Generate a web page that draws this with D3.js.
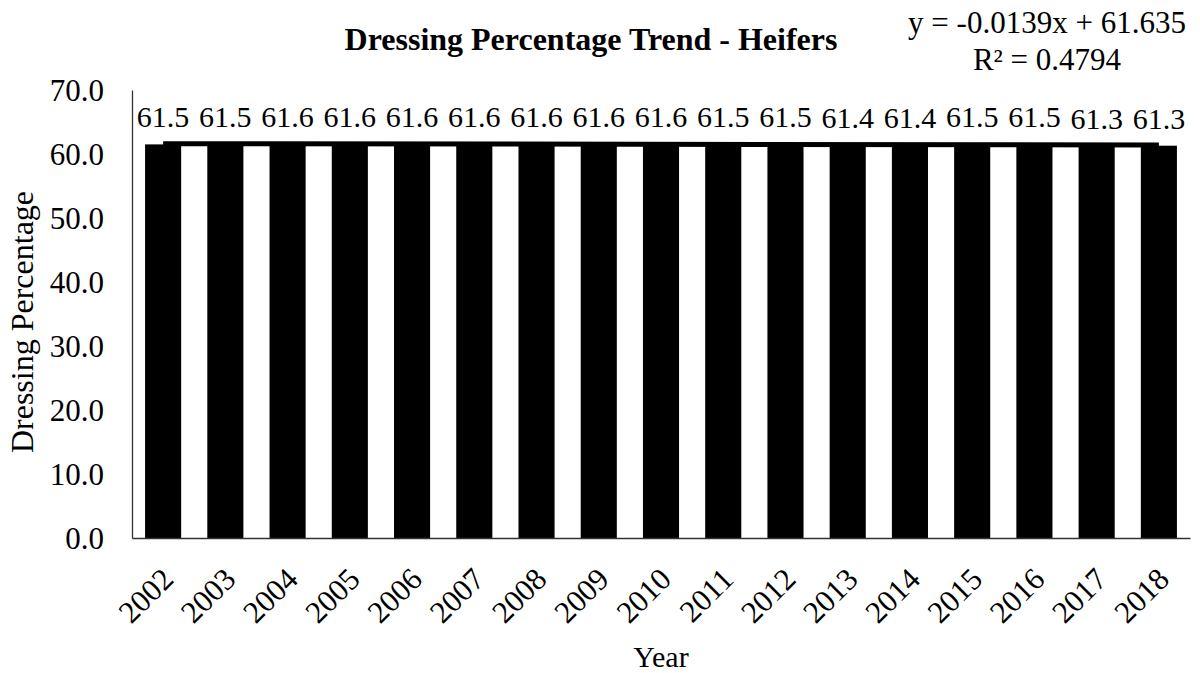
<!DOCTYPE html>
<html>
<head>
<meta charset="utf-8">
<script src="https://cdn.jsdelivr.net/npm/d3@7"></script>
<style>
  body { margin: 0; background: #fff; }
  svg text { font-family: "Liberation Serif", "Times New Roman", serif; fill: #000; }
</style>
</head>
<body>
<div id="chart"></div>
<script>
// data
var years = ['2002', '2003', '2004', '2005', '2006', '2007', '2008', '2009', '2010',
  '2011', '2012', '2013', '2014', '2015', '2016', '2017', '2018'];
var dressing = [61.5, 61.5, 61.6, 61.6, 61.6, 61.6, 61.6, 61.6, 61.6,
  61.5, 61.5, 61.4, 61.4, 61.5, 61.5, 61.3, 61.3];
var yTicks = [0, 10, 20, 30, 40, 50, 60, 70];
// linear trendline as printed on the chart
var trendSlope = -0.0139;
var trendIntercept = 61.635;
var trendR2 = 0.4794;

var width = 1200, height = 673;
var margin = { top: 90, right: 10, bottom: 135, left: 132 };
var plotW = width - margin.left - margin.right,
  plotH = height - margin.top - margin.bottom;

var svg = d3.select('#chart').append('svg')
  .attr('width', width)
  .attr('height', height);

var x = d3.scaleBand()
  .domain(years)
  .range([0, plotW])
  .paddingInner(0.42)
  .paddingOuter(0.21);

var y = d3.scaleLinear()
  .domain([0, 70])
  .range([plotH, 0]);

var g = svg.append('g')
  .attr('transform', 'translate(' + margin.left + ',' + margin.top + ')');

// bars
g.selectAll('rect.bar')
  .data(dressing)
  .enter().append('rect')
  .attr('class', 'bar')
  .attr('x', function(d, i) { return x(years[i]); })
  .attr('y', function(d) { return y(d); })
  .attr('width', x.bandwidth())
  .attr('height', function(d) { return plotH - y(d); })
  .attr('fill', '#000');

// trendline from first to last bar centre
var trend = d3.line()
  .x(function(d) { return x(d) + x.bandwidth() / 2; })
  .y(function(d) { return y(trendIntercept + trendSlope * (years.indexOf(d) + 1)); });

g.append('path')
  .attr('d', trend([years[0], years[years.length - 1]]))
  .attr('stroke', '#000')
  .attr('stroke-width', 5)
  .attr('fill', 'none');

// value labels
g.selectAll('text.lbl')
  .data(dressing)
  .enter().append('text')
  .attr('class', 'lbl')
  .attr('x', function(d, i) { return x(years[i]) + x.bandwidth() / 2; })
  .attr('y', function(d) { return y(d) - 17; })
  .attr('text-anchor', 'middle')
  .attr('font-size', '30px')
  .text(function(d) { return d.toFixed(1); });

// y axis
var yAxis = g.append('g')
  .call(d3.axisLeft(y).tickValues(yTicks).tickSize(0).tickPadding(28)
    .tickFormat(function(d) { return d.toFixed(1); }));
yAxis.selectAll('text').attr('font-size', '31px').attr('dy', '0.35em');
yAxis.select('.domain').attr('stroke', '#333').attr('stroke-width', 1.3);

// x axis
var xAxis = g.append('g')
  .attr('transform', 'translate(0,' + plotH + ')')
  .call(d3.axisBottom(x).tickSize(0).tickFormat(''));
xAxis.select('.domain').attr('stroke', '#333').attr('stroke-width', 1.3);

g.selectAll('text.xlbl')
  .data(years)
  .enter().append('text')
  .attr('class', 'xlbl')
  .attr('text-anchor', 'end')
  .attr('font-size', '31px')
  .attr('transform', function(d) {
    return 'translate(' + (x(d) + x.bandwidth() / 2 + 12) + ',' + (plotH + 43) + ') rotate(-45)';
  })
  .text(function(d) { return d; });

// titles
svg.append('text')
  .attr('x', 591)
  .attr('y', 50)
  .attr('text-anchor', 'middle')
  .attr('font-size', '32px')
  .attr('font-weight', 'bold')
  .text('Dressing Percentage Trend - Heifers');

svg.append('text')
  .attr('x', 661)
  .attr('y', 667)
  .attr('text-anchor', 'middle')
  .attr('font-size', '30px')
  .text('Year');

svg.append('text')
  .attr('transform', 'translate(33,322) rotate(-90)')
  .attr('text-anchor', 'middle')
  .attr('font-size', '32px')
  .text('Dressing Percentage');

// trendline equation
svg.append('text')
  .attr('x', 1047)
  .attr('y', 33)
  .attr('text-anchor', 'middle')
  .attr('font-size', '31px')
  .text('y = ' + trendSlope + 'x + ' + trendIntercept);

svg.append('text')
  .attr('x', 1047)
  .attr('y', 70)
  .attr('text-anchor', 'middle')
  .attr('font-size', '31px')
  .text('R\u00B2 = ' + trendR2);
</script>
</body>
</html>
